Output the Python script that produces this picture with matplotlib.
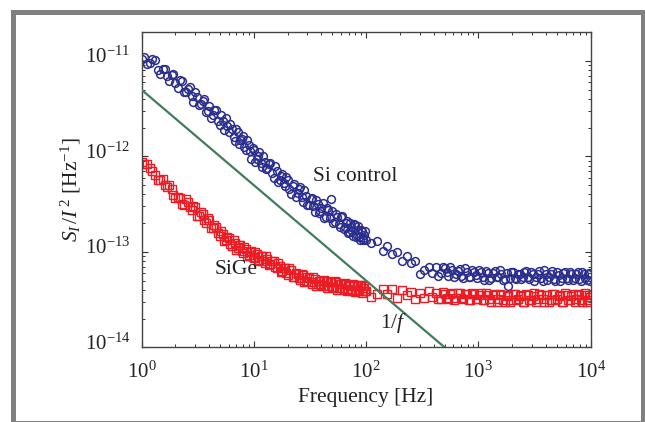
import numpy as np
import matplotlib
matplotlib.use("Agg")
import matplotlib.pyplot as plt
from matplotlib.patches import Rectangle
from matplotlib.transforms import ScaledTranslation
from matplotlib.ticker import FixedLocator, LogLocator, NullFormatter

plt.rcParams['font.family'] = ['Liberation Serif', 'DejaVu Serif']
plt.rcParams['mathtext.fontset'] = 'custom'
plt.rcParams['mathtext.rm'] = 'Liberation Serif'
plt.rcParams['mathtext.it'] = 'Liberation Serif:italic'

# frequency points [Hz], first sweep
freq = [1.0, 1.12, 1.25, 1.4, 1.55, 1.7, 1.85, 2.0, 2.2, 2.4, 2.6, 2.8, 3.0, 3.25, 3.5, 3.75,
        4.0, 4.3, 4.6, 5.0, 5.3, 5.6, 6.0, 6.4, 6.8, 7.2, 7.6, 8.0, 8.5, 9.0, 9.5, 10,
        10.6, 11.2, 11.8, 12.5, 13.2, 14, 15, 16, 17, 18, 19, 20, 21.5, 23, 24.5, 26,
        27.5, 29, 31, 33, 35, 37, 39, 41, 43.5, 46, 48.5, 51, 54, 57, 60, 63, 66, 69,
        72, 75, 78, 81, 84, 87, 90, 93, 96, 99,
        110, 125, 140, 155, 170, 190, 210, 230, 250, 275, 300, 330, 360, 390, 420, 460,
        500, 540, 580, 630, 680, 730, 790, 850, 910, 980, 1050, 1130, 1210, 1300, 1400,
        1500, 1600, 1720, 1840, 1970, 2100, 2250, 2400, 2570, 2750, 2950, 3150, 3370,
        3600, 3850, 4100, 4400, 4700, 5000, 5350, 5700, 6100, 6500, 6950, 7400, 7900,
        8400, 8950, 9500, 9950]

# S_I / I^2 in units of 1e-14 Hz^-1, first sweep
si_control = [1050, 920, 1050, 805, 820, 690, 720, 590, 630, 470, 510, 430, 470, 350, 385, 290,
              340, 275, 305, 215, 237, 250, 180, 196, 145, 180, 147, 162, 117, 131, 95, 118,
              94, 111, 78, 88, 76, 86, 59, 71, 56, 66, 48.5, 56, 40.4, 51, 41, 47.5,
              33.4, 38.2, 31.2, 37, 26.1, 31.6, 27, 32.7, 23.2, 27.5, 35.5, 20.1, 24.8, 19.8, 23.4, 17.5, 20.3, 15.6,
              20, 16.5, 19.8, 14.3, 17.1, 14.2, 17.1, 13.3, 15.2, 13.3,
              12.4, 13.0, 10.3, 11.6, 9.5, 9.9, 8.0, 9.1, 7.6, 8.1, 5.9, 6.4, 7.0, 6.0, 7.0, 6.0,
              6.7, 5.6, 6.4, 5.8, 6.6, 5.3, 6.1, 5.5, 6.2, 5.3, 6.2, 5.1, 6.0, 5.3, 6.3,
              5.5, 5.8, 5.2, 4.4, 6.1, 5.3, 5.9, 5.2, 6.2, 5.4, 6.1, 5.0, 5.9,
              5.3, 6.5, 5.1, 5.9, 5.2, 6.1, 5.0, 6.0, 5.3, 6.2, 5.1, 5.8, 5.2,
              6.2, 5.3, 5.9, 5.0]

sige = [87, 84, 71, 56, 58.5, 47.5, 45.3, 36.4, 37.1, 30.9, 33.3, 27.5, 29.2, 23.9, 24.9, 20.2,
        21.5, 17.7, 18.4, 14.6, 15.3, 13.2, 13.9, 11.5, 12.3, 11.1, 11.7, 9.8, 10.6, 9.3, 10.1, 8.6,
        9.4, 8.3, 9.1, 7.7, 8.5, 7.5, 8.1, 6.7, 7.1, 6.3, 6.8, 5.75, 6.4, 5.5, 5.9, 5.1,
        5.7, 5.0, 5.3, 4.6, 5.2, 4.6, 5.0, 4.4, 5.0, 4.4, 4.8, 4.2, 4.8, 4.2, 4.6, 4.0, 4.6, 4.1,
        4.4, 3.9, 4.5, 4.0, 4.4, 3.9, 4.5, 3.9, 4.4, 3.9,
        3.4, 3.65, 4.1, 3.6, 4.1, 3.3, 4.0, 3.5, 3.8, 3.2, 3.7, 3.3, 3.9, 3.35, 3.75, 3.2,
        3.6, 3.2, 3.7, 3.3, 3.75, 3.2, 3.6, 3.1, 3.6, 3.2, 3.7, 3.1, 3.5, 3.0, 3.6,
        3.2, 3.5, 3.0, 3.5, 3.1, 3.6, 3.2, 3.5, 2.95, 3.5, 3.1, 3.7, 3.2,
        3.5, 3.0, 3.5, 3.1, 3.6, 3.2, 3.5, 2.95, 3.5, 3.1, 3.6, 3.2, 3.5,
        3.0, 3.7, 3.1, 3.4]

# second sweep, in between the first one
freq2 = [1.06, 1.18, 1.32, 1.47, 1.62, 1.77, 1.92, 2.1, 2.3, 2.5, 2.7, 2.9, 3.12, 3.37, 3.62,
         3.87, 4.15, 4.45, 4.8, 5.15, 5.45, 5.8, 6.2, 6.6, 7.0, 7.4, 7.8, 8.25, 8.75, 9.25,
         9.75, 10.3, 10.9, 11.5, 12.15, 12.85, 13.6, 14.5, 15.5, 16.5, 17.5, 18.5, 19.5,
         20.75, 22.25, 23.75, 25.25, 26.75, 28.25, 30, 32, 34, 36, 38, 40, 42.25, 44.75,
         47.25, 49.75, 52.5, 55.5, 58.5, 61.5, 64.5, 67.5, 70.5, 73.5, 76.5, 79.5, 82.5,
         85.5, 88.5, 91.5, 94.5, 97.5,
         440, 480, 520, 560, 605, 655, 705, 760, 820, 880, 945, 1015, 1090, 1170, 1255,
         1350, 1450, 1550, 1660, 1780, 1905, 2035, 2175, 2325, 2485, 2660, 2850, 3050,
         3260, 3485, 3725, 3975, 4250, 4550, 4850, 5175, 5525, 5900, 6300, 6725, 7175,
         7650, 8150, 8675, 9225, 9725]

si_control2 = [1100, 950, 1030, 733, 826, 622, 731, 524, 615, 470, 536, 370, 422, 356, 399,
               302, 255, 303, 237, 269, 191, 209, 218, 161, 194, 135, 152, 127, 149, 113,
               124, 88.4, 102, 86, 102, 73, 82.5, 67.1, 78.7, 54.4, 63, 52.2, 61, 45.8, 49.2,
               37.5, 45.6, 37.6, 44, 30.8, 35.6, 30, 35.3, 25.7, 29, 22.7, 28.6, 22.8, 27,
               20.6, 23.2, 18.1, 23.5, 18.4, 20.9, 16.1, 18.4, 14.5, 19.1, 15.1, 18.5, 13.4,
               16.5, 14.1, 16.5,
               5.65, 7.0, 6.1, 6.9, 5.4, 6.3, 5.6, 6.7, 5.4, 6.4, 5.7, 6.5, 5.4, 6.3, 5.1,
               6.0, 5.5, 6.4, 5.1, 6.0, 5.3, 6.2, 5.2, 5.8, 5.4, 6.3, 5.2, 5.9, 5.5, 6.3,
               5.0, 5.9, 5.4, 6.3, 5.0, 5.7, 5.3, 6.2, 5.1, 5.9, 5.3, 6.2, 4.9, 5.8, 5.1, 6.0]

sige2 = [82.4, 75.5, 63.4, 57.3, 49.8, 49.7, 39.7, 38, 31.6, 35.6, 29.2, 30.4, 23.8, 26.4, 21.4,
         22.9, 17.6, 19.1, 15.6, 16.6, 13.0, 14.4, 12.0, 13.2, 10.5, 11.9, 10.2, 11.3, 9.0,
         10.0, 8.9, 10.0, 8.1, 9.0, 8.0, 9.0, 7.3, 8.1, 7.0, 7.6, 6.1, 6.8, 6.0, 6.7, 5.4,
         6.0, 5.3, 5.9, 4.8, 5.4, 4.8, 5.4, 4.4, 5.0, 4.5, 5.1, 4.2, 4.8, 4.3, 4.9, 4.0,
         4.6, 4.15, 4.7, 3.9, 4.45, 4.0, 4.6, 3.8, 4.4, 4.0, 4.5, 3.75, 4.2, 3.9,
         3.2, 3.8, 3.3, 3.6, 3.1, 3.75, 3.3, 3.6, 3.1, 3.7, 3.2, 3.5, 3.1, 3.7, 3.2,
         3.5, 3.0, 3.6, 3.15, 3.45, 3.0, 3.6, 3.15, 3.45, 3.0, 3.6, 3.15, 3.45, 2.95, 3.6,
         3.2, 3.5, 3.0, 3.6, 3.15, 3.45, 3.0, 3.7, 3.15, 3.45, 3.0, 3.6, 3.15, 3.5, 3.0, 3.5]

# 1/f guide line end points
guide_freq = [1.0, 1.0e4]
guide_val = [5.0e-12, 5.0e-16]

unit = 1e-14
blue = '#2b2e8f'
red = '#ec1c24'

fig = plt.figure(figsize=(6.45, 4.22), dpi=100)
ax = fig.add_axes([0.2194, 0.177, 0.6964, 0.7465])

for f, v in ((freq, si_control), (freq2, si_control2)):
    ax.plot(f, np.array(v) * unit, linestyle='none', marker='o', ms=5.6,
            mfc='none', mec=blue, mew=1.1, zorder=2)
for f, v in ((freq, sige), (freq2, sige2)):
    ax.plot(f, np.array(v) * unit, linestyle='none', marker='s', ms=5.4,
            mfc='none', mec=red, mew=1.0, zorder=2)
ax.plot(guide_freq, guide_val, color='#3f7d5c', lw=1.6, zorder=3)

ax.set_xscale('log')
ax.set_yscale('log')
ax.set_xlim(1, 1e4)
ax.set_ylim(1e-14, 2e-11)

ax.xaxis.set_major_locator(FixedLocator([1, 10, 100, 1000, 10000]))
ax.yaxis.set_major_locator(FixedLocator([1e-14, 1e-13, 1e-12, 1e-11]))
ax.set_xticklabels([r'$10^{%d}$' % k for k in range(5)])
ax.set_yticklabels([r'$10^{\mathrm{-}%d}$' % k for k in (14, 13, 12, 11)])
for a in (ax.xaxis, ax.yaxis):
    a.set_minor_locator(LogLocator(base=10, subs=np.arange(2, 10)))
    a.set_minor_formatter(NullFormatter())

ax.tick_params(which='both', direction='in', top=True, right=True, colors='#333333',
               labelcolor='#222222', labelsize=15)
ax.tick_params(which='major', length=4, width=0.8)
ax.tick_params(which='minor', length=2.2, width=0.7)
ax.tick_params(axis='x', pad=10)
ax.tick_params(axis='y', pad=8)
for s in ax.spines.values():
    s.set_color('#444444')
    s.set_linewidth(1.0)

# y tick labels sit a little above their ticks, as in the original
lift = ScaledTranslation(0, 6 / 100, fig.dpi_scale_trans)
for lab in ax.get_yticklabels():
    lab.set_transform(lab.get_transform() + lift)

ax.set_xlabel('Frequency [Hz]', fontsize=15.5, color='#222222', labelpad=4)
ax.set_ylabel(r'$S_I\,/I^{\,2}$ [Hz$^{\mathrm{-}1}$]', fontsize=15.5, color='#222222',
              labelpad=1)

ax.text(80, 6.1e-13, 'Si control', fontsize=15.5, ha='center', va='center', color='#222222')
ax.text(7.0, 6.5e-14, 'SiGe', fontsize=15.5, ha='center', va='center', color='#222222')
ax.text(174, 1.8e-14, r'1/$f$', fontsize=15.5, ha='center', va='center', color='#222222')

# grey page frame
fig.patches.append(Rectangle((12.5 / 645, -0.5 / 422), 630 / 645, 411 / 422,
                             transform=fig.transFigure, fill=False,
                             edgecolor='#808080', lw=3.6, zorder=0))

fig.savefig('out.png', dpi=100)
